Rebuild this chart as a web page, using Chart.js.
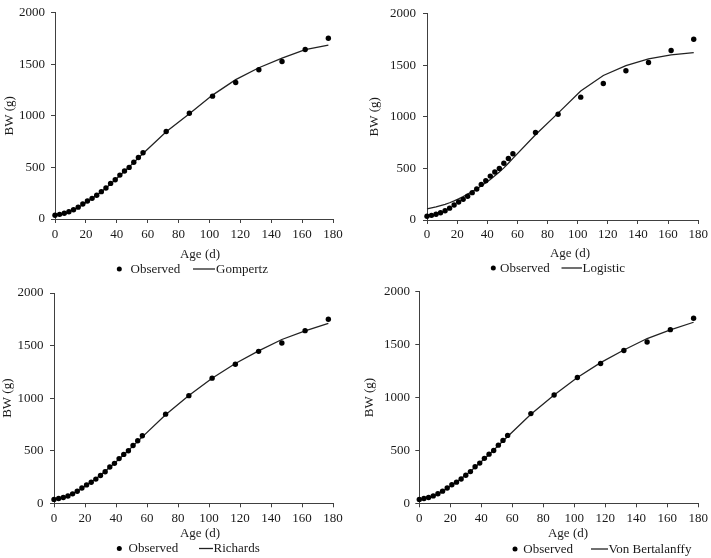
<!DOCTYPE html>
<html>
<head>
<meta charset="utf-8">
<script src="https://cdn.jsdelivr.net/npm/chart.js@4.4.1/dist/chart.umd.min.js"></script>
<style>
  html, body { margin: 0; padding: 0; background: #fff; }
  body { width: 711px; height: 558px; position: relative; overflow: hidden; }
  .panel { position: absolute; }
  .panel canvas { display: block; }
</style>
</head>
<body>
<div class="panel" id="p1" style="left:0;top:0;width:355px;height:279px;"><canvas id="c1"></canvas></div>
<div class="panel" id="p2" style="left:355px;top:0;width:356px;height:279px;"><canvas id="c2"></canvas></div>
<div class="panel" id="p3" style="left:0;top:280px;width:355px;height:278px;"><canvas id="c3"></canvas></div>
<div class="panel" id="p4" style="left:355px;top:280px;width:356px;height:278px;"><canvas id="c4"></canvas></div>
<script>
// ---------- data ----------
const ages = [0, 3, 6, 9, 12, 15, 18, 21, 24, 27, 30, 33, 36, 39, 42, 45, 48, 51, 54, 57, 72, 87, 102, 117, 132, 147, 162, 177];
const observedBW = [37, 45, 55, 70, 90, 115, 145, 175, 200, 230, 265, 300, 345, 380, 425, 465, 500, 550, 595, 642, 848, 1024, 1190, 1322, 1445, 1525, 1642, 1750];
const gompertzBW = [35, 45, 57, 71, 89, 111, 138, 168, 199, 231, 265, 301, 340, 380, 421, 463, 505, 548, 592, 635, 845, 1020, 1200, 1350, 1465, 1558, 1640, 1683];
const logisticBW = [108, 118, 128, 140, 152, 167, 185, 205, 226, 250, 275, 302, 330, 360, 392, 428, 465, 505, 550, 597, 825, 1035, 1250, 1400, 1495, 1560, 1600, 1622];
const richardsBW = [35, 45, 56, 70, 89, 113, 141, 171, 202, 234, 268, 304, 342, 381, 421, 462, 503, 546, 589, 632, 842, 1025, 1190, 1330, 1450, 1558, 1640, 1712];
const vonBertalanffyBW = [35, 45, 56, 70, 89, 113, 141, 171, 202, 234, 268, 304, 342, 381, 421, 462, 503, 546, 589, 632, 842, 1025, 1190, 1330, 1450, 1558, 1640, 1712];
const modelNames = ['Gompertz', 'Logistic', 'Richards', 'Von Bertalanffy'];
const xTickValues = [0, 20, 40, 60, 80, 100, 120, 140, 160, 180];
const yTickValues = [0, 500, 1000, 1500, 2000];
const xTitle = 'Age (d)';
const yTitle = 'BW (g)';
const observedLabel = 'Observed';

// ---------- styling ----------
const FONT = "'Liberation Serif', 'Times New Roman', serif";
const TXT = '#1a1a1a';
const AXIS = '#404040';

const legendPlugin = {
  id: 'excelLegend',
  afterDraw(chart, args, opts) {
    const ctx = chart.ctx;
    const ds = chart.data.datasets;
    ctx.save();
    ctx.font = '13px ' + FONT;
    ctx.textBaseline = 'middle';
    // x-axis title
    ctx.textAlign = 'center';
    ctx.fillStyle = TXT;
    ctx.fillText(chart.options.scales.x.title.text, opts.titleX, opts.titleY);
    // legend
    ctx.textAlign = 'left';
    const y = opts.y;
    ctx.beginPath();
    ctx.arc(opts.dot, y, 2.5, 0, Math.PI * 2);
    ctx.fillStyle = '#000';
    ctx.fill();
    ctx.fillStyle = TXT;
    ctx.fillText(ds[0].label, opts.t1, y + 0.5);
    ctx.beginPath();
    ctx.moveTo(opts.l1, y);
    ctx.lineTo(opts.l2, y);
    ctx.strokeStyle = '#222';
    ctx.lineWidth = 1.3;
    ctx.stroke();
    ctx.fillText(ds[1].label, opts.t2, y + 0.5);
    ctx.restore();
  }
};

function makeChart(id, name, predicted, L) {
  const obsPts = ages.map((a, i) => ({ x: a, y: observedBW[i] }));
  const predPts = ages.map((a, i) => ({ x: a, y: predicted[i] }));
  return new Chart(document.getElementById(id), {
    type: 'scatter',
    data: {
      datasets: [
        {
          label: observedLabel,
          data: obsPts,
          pointRadius: 2.7,
          pointBackgroundColor: '#000',
          pointBorderWidth: 0,
          showLine: false,
          clip: false,
          order: 1
        },
        {
          label: name,
          data: predPts,
          showLine: true,
          borderColor: '#222',
          borderWidth: 1.3,
          pointRadius: 0,
          tension: 0,
          fill: false,
          clip: false,
          order: 2
        }
      ]
    },
    options: {
      responsive: true,
      maintainAspectRatio: false,
      animation: false,
      events: [],
      layout: { padding: { left: 0, top: L.top, right: L.right, bottom: L.bottom } },
      plugins: {
        legend: { display: false },
        tooltip: { enabled: false },
        excelLegend: L.legend
      },
      scales: {
        x: {
          type: 'linear',
          min: 0, max: 180,
          afterBuildTicks: s => { s.ticks = xTickValues.map(v => ({ value: v })); },
          afterFit: s => { s.height = L.xH; },
          border: { display: true, color: AXIS, width: 1 },
          grid: { display: true, drawOnChartArea: false, drawTicks: true, tickLength: 4, color: AXIS },
          ticks: { color: TXT, padding: L.xPad, maxRotation: 0, callback: v => String(v), font: { family: FONT, size: 13 } },
          title: { display: false, text: xTitle }
        },
        y: {
          type: 'linear',
          min: 0, max: 2000,
          afterBuildTicks: s => { s.ticks = yTickValues.map(v => ({ value: v })); },
          afterFit: s => { s.width = L.yW; },
          border: { display: true, color: AXIS, width: 1 },
          grid: { display: true, drawOnChartArea: false, drawTicks: true, tickLength: 4, color: AXIS },
          ticks: { color: TXT, padding: L.yPad, callback: v => String(v), font: { family: FONT, size: 13, lineHeight: 1 } },
          title: { display: true, text: yTitle, color: TXT, padding: { top: L.yTitlePad, bottom: 0 }, font: { family: FONT, size: 13 } }
        }
      }
    },
    plugins: [legendPlugin]
  });
}

makeChart('c1', modelNames[0], gompertzBW, {
  top: 7, right: 22, bottom: 17, xH: 43, xPad: 4, yW: 55, yPad: 6, yTitlePad: 2,
  legend: { titleX: 200, titleY: 254.5, y: 269, dot: 119.3, t1: 130.5, l1: 193, l2: 215, t2: 216 }
});
makeChart('c2', modelNames[1], logisticBW, {
  top: 7, right: 11, bottom: 17, xH: 42, xPad: 3, yW: 72, yPad: 7, yTitlePad: 12,
  legend: { titleX: 215, titleY: 253.5, y: 268, dot: 138.3, t1: 145, l1: 206.5, l2: 227, t2: 227.5 }
});
makeChart('c3', modelNames[2], richardsBW, {
  top: 9.3, right: 22, bottom: 16.7, xH: 38, xPad: 3, yW: 54, yPad: 6.5, yTitlePad: 0,
  legend: { titleX: 200, titleY: 253.5, y: 268.5, dot: 119.3, t1: 128.5, l1: 199, l2: 213, t2: 213.5 }
});
makeChart('c4', modelNames[3], vonBertalanffyBW, {
  top: 9.3, right: 12.7, bottom: 16.7, xH: 38, xPad: 3, yW: 64.3, yPad: 5.3, yTitlePad: 7,
  legend: { titleX: 213, titleY: 254, y: 269, dot: 160, t1: 168.3, l1: 236, l2: 253, t2: 253.5 }
});
</script>
</body>
</html>
